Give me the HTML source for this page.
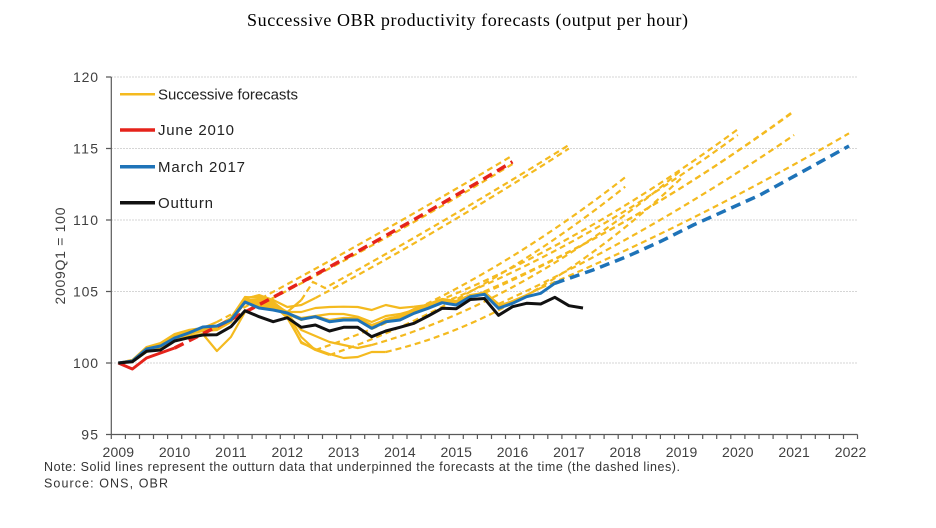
<!DOCTYPE html>
<html><head><meta charset="utf-8"><style>
html,body{margin:0;padding:0;background:#fff;}
svg{display:block;}
</style></head><body>
<svg width="936" height="528" viewBox="0 0 936 528" xmlns="http://www.w3.org/2000/svg">
<rect width="936" height="528" fill="#fff"/>
<text x="467.5" y="26" font-family="Liberation Serif, serif" font-size="18" text-anchor="middle" textLength="441" fill="#000">Successive OBR productivity forecasts (output per hour)</text>

<!-- gridlines -->
<g stroke="#d6d6d6" stroke-width="1" stroke-dasharray="2 1">
<line x1="111" y1="77" x2="857" y2="77"/>
<line x1="111" y1="148.5" x2="857" y2="148.5"/>
<line x1="111" y1="220" x2="857" y2="220"/>
<line x1="111" y1="291.5" x2="857" y2="291.5"/>
<line x1="111" y1="363" x2="857" y2="363"/>
</g>

<!-- axes -->
<g stroke="#595959" stroke-width="1.2" fill="none">
<line x1="111.3" y1="77" x2="111.3" y2="434.5"/>
<line x1="111.3" y1="434.5" x2="857.5" y2="434.5"/>
<path d="M106 77H111.3M106 148.5H111.3M106 220H111.3M106 291.5H111.3M106 363H111.3M106 434.5H111.3"/>
<path d="M111.3 434.5V439M125.4 434.5V439M139.5 434.5V439M153.5 434.5V439M167.6 434.5V439M181.7 434.5V439M195.8 434.5V439M209.9 434.5V439M223.9 434.5V439M238 434.5V439M252.1 434.5V439M266.2 434.5V439M280.3 434.5V439M294.3 434.5V439M308.4 434.5V439M322.5 434.5V439M336.6 434.5V439M350.7 434.5V439M364.7 434.5V439M378.8 434.5V439M392.9 434.5V439M407 434.5V439M421.1 434.5V439M435.1 434.5V439M449.2 434.5V439M463.3 434.5V439M477.4 434.5V439M491.5 434.5V439M505.5 434.5V439M519.6 434.5V439M533.7 434.5V439M547.8 434.5V439M561.9 434.5V439M575.9 434.5V439M590 434.5V439M604.1 434.5V439M618.2 434.5V439M632.3 434.5V439M646.3 434.5V439M660.4 434.5V439M674.5 434.5V439M688.6 434.5V439M702.7 434.5V439M716.7 434.5V439M730.8 434.5V439M744.9 434.5V439M759 434.5V439M773.1 434.5V439M787.1 434.5V439M801.2 434.5V439M815.3 434.5V439M829.4 434.5V439M843.5 434.5V439M857.5 434.5V439"/>
</g>

<!-- y tick labels -->
<g font-family="Liberation Sans, sans-serif" font-size="14" fill="#404040" text-anchor="end">
<text x="98" y="82" textLength="25">120</text>
<text x="98" y="153.5" textLength="25">115</text>
<text x="98" y="225" textLength="25">110</text>
<text x="98" y="296.5" textLength="25">105</text>
<text x="98" y="368" textLength="25">100</text>
<text x="98" y="439.5" textLength="16.7">95</text>
</g>
<!-- x tick labels -->
<g font-family="Liberation Sans, sans-serif" font-size="14" fill="#404040" text-anchor="middle">
<text x="118.3" y="457" textLength="31.5">2009</text>
<text x="174.6" y="457" textLength="31.5">2010</text>
<text x="230.9" y="457" textLength="31.5">2011</text>
<text x="287.3" y="457" textLength="31.5">2012</text>
<text x="343.6" y="457" textLength="31.5">2013</text>
<text x="399.9" y="457" textLength="31.5">2014</text>
<text x="456.2" y="457" textLength="31.5">2015</text>
<text x="512.5" y="457" textLength="31.5">2016</text>
<text x="568.9" y="457" textLength="31.5">2017</text>
<text x="625.2" y="457" textLength="31.5">2018</text>
<text x="681.5" y="457" textLength="31.5">2019</text>
<text x="737.8" y="457" textLength="31.5">2020</text>
<text x="794.1" y="457" textLength="31.5">2021</text>
<text x="850.5" y="457" textLength="31.5">2022</text>
</g>

<!-- y axis title -->
<text transform="translate(65,256) rotate(-90)" font-family="Liberation Sans, sans-serif" font-size="14" fill="#404040" text-anchor="middle" textLength="97">2009Q1 = 100</text>

<!-- yellow solid vintages -->
<g fill="none" stroke="#F4BA1F" stroke-width="2.2" stroke-linejoin="round">
<polyline points="118.3,363 132.4,360 146.5,347 160.5,343 174.6,334 188.7,330 202.8,328 216.9,322"/>
<polyline points="118.3,363 132.4,362 146.5,352 160.5,348 174.6,341 188.7,336 202.8,334 216.9,351 230.9,337 245,312"/>
<polyline points="118.3,363 132.4,360 146.5,348 160.5,344 174.6,336 188.7,331 202.8,329 216.9,327 230.9,318 245,297 259.1,298 273.2,304 287.3,312 301.3,300"/>
<polyline points="118.3,363 132.4,361 146.5,349 160.5,345 174.6,337 188.7,332 202.8,330 216.9,328 230.9,319 245,299 259.1,295 273.2,300 287.3,307 301.3,305 315.4,298"/>
<polyline points="118.3,363 132.4,361 146.5,350 160.5,346 174.6,337 188.7,332 202.8,329 216.9,326 230.9,318 245,298 259.1,296 273.2,302 287.3,313 301.3,337 315.4,350"/>
<polyline points="118.3,363 132.4,361 146.5,349 160.5,345 174.6,338 188.7,333 202.8,330 216.9,328 230.9,320 245,300 259.1,300 273.2,305 287.3,318 301.3,342 315.4,350 329.5,355"/>
<polyline points="118.3,363 132.4,361 146.5,349 160.5,346 174.6,338 188.7,333 202.8,330 216.9,329 230.9,321 245,301 259.1,302 273.2,306 287.3,314 301.3,330 315.4,336 329.5,342 343.6,345 357.7,348 371.7,345"/>
<polyline points="118.3,363 132.4,361 146.5,350 160.5,347 174.6,339 188.7,334 202.8,331 216.9,330 230.9,322 245,302 259.1,303 273.2,307 287.3,316 301.3,343 315.4,349 329.5,354 343.6,358 357.7,357 371.7,352 385.8,352"/>
<polyline points="118.3,363 132.4,361 146.5,348 160.5,345 174.6,337 188.7,332 202.8,329 216.9,329 230.9,321 245,303 259.1,304 273.2,309 287.3,312 301.3,312 315.4,308 329.5,307 343.6,306.7 357.7,307 371.7,310 385.8,305 399.9,308 414,306.7 428.1,305"/>
<polyline points="118.3,363 132.4,361 146.5,349 160.5,346 174.6,338 188.7,333 202.8,328 216.9,327 230.9,320 245,302 259.1,306 273.2,309 287.3,314 301.3,320 315.4,316 329.5,314 343.6,314 357.7,316.7 371.7,322 385.8,316 399.9,314 414,310 428.1,307 442.1,303"/>
<polyline points="118.3,363 132.4,361 146.5,349 160.5,346 174.6,338 188.7,333 202.8,328 216.9,327 230.9,320 245,303 259.1,306 273.2,309 287.3,313 301.3,318 315.4,316 329.5,320 343.6,318 357.7,318 371.7,325 385.8,320 399.9,317 414,311 428.1,305 442.1,300 456.2,303"/>
<polyline points="118.3,363 132.4,361 146.5,349 160.5,346 174.6,338 188.7,333 202.8,328 216.9,327 230.9,320 245,303 259.1,306 273.2,309 287.3,313 301.3,319 315.4,317 329.5,321 343.6,319 357.7,319 371.7,327 385.8,319 399.9,316 414,309 428.1,304 442.1,299 456.2,301 470.3,295 484.4,293"/>
<polyline points="118.3,363 132.4,361 146.5,349 160.5,346 174.6,338 188.7,333 202.8,327 216.9,326 230.9,320 245,302 259.1,307 273.2,310 287.3,313 301.3,319 315.4,317 329.5,321 343.6,320 357.7,320 371.7,327 385.8,321 399.9,319 414,312 428.1,307 442.1,302 456.2,304 470.3,296 484.4,292 498.5,304"/>
<polyline points="118.3,363 132.4,361 146.5,349 160.5,346 174.6,338 188.7,333 202.8,327 216.9,326 230.9,320 245,302 259.1,308 273.2,310 287.3,313 301.3,319 315.4,317 329.5,321 343.6,320 357.7,320 371.7,328 385.8,321 399.9,320 414,313 428.1,308 442.1,302 456.2,304 470.3,296 484.4,293 498.5,306 512.5,301 526.6,295 540.7,288"/>
</g>

<!-- yellow dashed forecasts -->
<g fill="none" stroke="#F4BA1F" stroke-width="2.2" stroke-dasharray="6 4">
<path d="M216.9,322 Q364.7,243.7 512.5,155.5"/>
<path d="M245,312 Q378.75,245.4 512.5,164"/>
<path d="M301.3,300 L313,282 L325,288 Q447,220.8 568.9,145"/>
<path d="M315.4,298 Q442.2,230.7 568.9,148.5"/>
<path d="M315.4,350 Q470.3,298.2 625.2,177.3"/>
<path d="M329.5,355 Q477.4,304.5 625.2,186.7"/>
<path d="M371.7,345 Q526.6,301.25 681.5,170"/>
<path d="M385.8,352 Q533.7,317.2 681.5,178"/>
<path d="M428.1,305 Q583,243.5 737.8,129.3"/>
<path d="M442.1,303 Q590,244.2 737.8,135"/>
<path d="M456.2,303 Q625.2,235.7 794.1,110.7"/>
<path d="M484.4,293 Q639.3,224 794.1,111.5"/>
<path d="M498.5,304 Q646.3,236.4 794.1,135"/>
<path d="M540.7,288 Q694.9,223 849,133.3"/>
</g>

<!-- June 2010 (red) -->
<polyline points="118.3,363 132.4,369 146.5,358 160.5,353 174.6,348" fill="none" stroke="#E5231B" stroke-width="3" stroke-linejoin="round"/>
<path d="M174.6,348 Q343.55,263.6 512.5,161.7" fill="none" stroke="#E5231B" stroke-width="3.5" stroke-dasharray="10 6"/>

<!-- March 2017 (blue) -->
<polyline points="118.3,363 132.4,361 146.5,349 160.5,346 174.6,338 188.7,333 202.8,327 216.9,326 230.9,320 245,302 259.1,308 273.2,310 287.3,313 301.3,319.3 315.4,316.7 329.5,321.7 343.6,320 357.7,320 371.7,328.3 385.8,321.7 399.9,320 414,313.3 428.1,308.3 442.1,302.7 456.2,305 470.3,296.7 484.4,294.3 498.5,308.3 512.5,303.3 526.6,296.7 540.7,293.3 554.8,283.3" fill="none" stroke="#1E73B8" stroke-width="3" stroke-linejoin="round"/>
<polyline points="554.8,283.3 593,270 626.7,256.7 660,241.7 693.3,225 726.7,210 760,195 793.3,176.7 826.7,158.3 849,146" fill="none" stroke="#1E73B8" stroke-width="3.5" stroke-dasharray="10 6"/>

<!-- Outturn (black) -->
<polyline points="118.3,363 132.4,361.7 146.5,351.3 160.5,350 174.6,341 188.7,337.7 202.8,335 216.9,334.7 230.9,326.7 245,310.7 259.1,316.7 273.2,321.7 287.3,317.7 301.3,327.3 315.4,325 329.5,331 343.6,327.3 357.7,327.3 371.7,336.7 385.8,331 399.9,327.3 414,323.3 428.1,316 442.1,308.3 456.2,308.8 470.3,299.5 484.4,298.5 498.5,315.3 512.5,306.7 526.6,303.3 540.7,304 554.8,297.3 568.9,305.7 583,308" fill="none" stroke="#111" stroke-width="3" stroke-linejoin="round"/>

<!-- legend -->
<line x1="120" y1="94.3" x2="155" y2="94.3" stroke="#F4BA1F" stroke-width="2.5"/>
<line x1="120" y1="130" x2="155" y2="130" stroke="#E5231B" stroke-width="3.5"/>
<line x1="120" y1="166.7" x2="155" y2="166.7" stroke="#1E73B8" stroke-width="3.5"/>
<line x1="120" y1="202.7" x2="155" y2="202.7" stroke="#111" stroke-width="3.5"/>
<g font-family="Liberation Sans, sans-serif" font-size="15" fill="#222">
<text x="158" y="99.5" textLength="140">Successive forecasts</text>
<text x="158" y="135.2" textLength="76">June 2010</text>
<text x="158" y="171.9" textLength="87">March 2017</text>
<text x="158" y="207.9" textLength="55">Outturn</text>
</g>

<!-- notes -->
<g font-family="Liberation Sans, sans-serif" font-size="12.5" fill="#333">
<text x="44" y="471" textLength="636">Note: Solid lines represent the outturn data that underpinned the forecasts at the time (the dashed lines).</text>
<text x="44" y="487.5" textLength="124">Source: ONS, OBR</text>
</g>
</svg>
</body></html>
